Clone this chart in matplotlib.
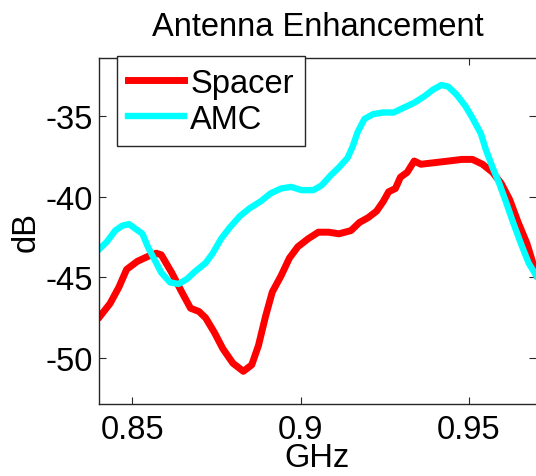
import matplotlib
matplotlib.use('Agg')
import matplotlib.pyplot as plt
import numpy as np

plt.rcParams['font.family'] = ['Liberation Sans', 'DejaVu Sans']
plt.rcParams['axes.unicode_minus'] = False

# Spacer curve (GHz, dB)
spacerFreq = [0.8404, 0.8434, 0.846, 0.8483, 0.8515, 0.8546, 0.8571, 0.8586, 0.8617, 0.8647,
              0.8673, 0.8698, 0.8718, 0.8744, 0.8769, 0.8799, 0.883, 0.8855, 0.8875, 0.8896,
              0.8916, 0.8942, 0.8967, 0.8992, 0.9023, 0.9053, 0.9084, 0.9114, 0.915, 0.9175,
              0.9201, 0.9226, 0.9246, 0.9262, 0.9282, 0.9297, 0.9317, 0.9338, 0.9358, 0.9399,
              0.944, 0.948, 0.9511, 0.9541, 0.9571, 0.9597, 0.9622, 0.9647, 0.9673, 0.9701]
spacerDb = [-47.4, -46.6, -45.6, -44.5, -44.0, -43.7, -43.5, -43.6, -44.7, -45.9,
            -46.9, -47.1, -47.5, -48.4, -49.4, -50.3, -50.8, -50.4, -49.2, -47.4,
            -45.9, -44.9, -43.8, -43.1, -42.6, -42.2, -42.2, -42.3, -42.1, -41.6,
            -41.3, -40.9, -40.3, -39.7, -39.5, -38.8, -38.5, -37.8, -38.0, -37.9,
            -37.8, -37.7, -37.7, -38.0, -38.5, -39.2, -40.2, -41.6, -42.9, -44.8]

# AMC curve (GHz, dB)
amcFreq = [0.8404, 0.8424, 0.8449, 0.847, 0.849, 0.851, 0.853, 0.8546, 0.8566, 0.8586,
           0.8612, 0.8637, 0.8662, 0.8688, 0.8718, 0.8739, 0.8764, 0.879, 0.882, 0.885,
           0.8881, 0.8911, 0.8942, 0.8972, 0.9003, 0.9038, 0.9063, 0.9089, 0.9114, 0.914,
           0.9155, 0.917, 0.919, 0.9216, 0.9246, 0.9277, 0.9307, 0.9338, 0.9368, 0.9393,
           0.9419, 0.9439, 0.9464, 0.949, 0.951, 0.9536, 0.9551, 0.9571, 0.9591, 0.9612,
           0.9632, 0.9657, 0.9678, 0.9701]
amcDb = [-43.2, -42.8, -42.1, -41.8, -41.7, -42.0, -42.3, -43.1, -43.9, -44.7,
         -45.3, -45.4, -45.1, -44.6, -44.1, -43.5, -42.6, -41.9, -41.2, -40.7,
         -40.3, -39.8, -39.5, -39.4, -39.6, -39.6, -39.3, -38.7, -38.2, -37.6,
         -36.9, -36.0, -35.2, -34.9, -34.8, -34.8, -34.5, -34.2, -33.8, -33.4,
         -33.1, -33.2, -33.7, -34.4, -35.1, -36.1, -37.1, -38.2, -39.2, -40.4,
         -41.6, -43.0, -44.1, -44.9]

xTicks = [0.85, 0.9, 0.95]
xTickLabels = ['0.85', '0.9', '0.95']
yTicks = [-50, -45, -40, -35]

fs = 23.5
W, H = 536, 477
fig = plt.figure(figsize=(W / 100, H / 100), dpi=100)
ax = fig.add_axes([98.7 / W, 1 - 405 / H, (536 - 98.7) / W, (405 - 59.3) / H])

ax.plot(spacerFreq, spacerDb, color='#ff0000', lw=5, label='Spacer')
ax.plot(amcFreq, amcDb, color='#00ffff', lw=4.6, label='AMC')

ax.set_xlim(0.84, 0.97)
ax.set_ylim(-52.82, -31.45)
ax.set_xticks(xTicks)
ax.set_xticklabels(xTickLabels)
ax.set_yticks(yTicks)
ax.tick_params(direction='in', length=5, width=0.8, top=True, right=True,
               labelsize=fs, colors='#262626', labelcolor='black')
ax.tick_params(axis='x', pad=7)
ax.tick_params(axis='y', pad=4)
for side in ['left', 'top', 'bottom']:
    ax.spines[side].set_color('#262626')
    ax.spines[side].set_linewidth(1.0)
ax.spines['right'].set_visible(False)

ax.set_title('Antenna Enhancement', fontsize=fs, pad=17)
ax.set_xlabel('GHz', fontsize=fs, labelpad=-2)
ax.set_ylabel('dB', fontsize=fs, labelpad=3)

leg = ax.legend(loc='upper left', bbox_to_anchor=(116.7 / W, 1 - 57.3 / H),
                bbox_transform=fig.transFigure, borderaxespad=0, fontsize=fs,
                handlelength=1.7, handletextpad=0.2, labelspacing=0.15,
                borderpad=0.35, fancybox=False, framealpha=1)
leg.get_frame().set_edgecolor('#262626')
leg.get_frame().set_linewidth(1.0)

fig.savefig('out.png', dpi=100)
